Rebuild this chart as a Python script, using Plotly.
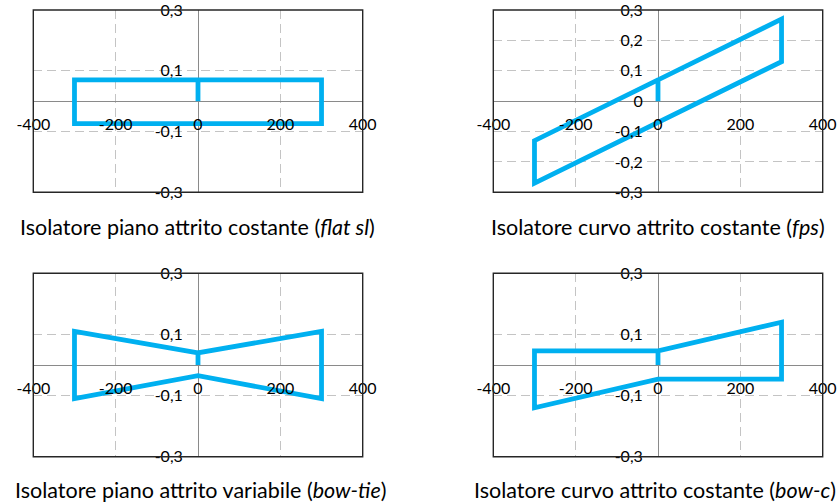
import plotly.graph_objects as go

# Force-displacement loops for four isolator types (displacement in mm, normalised force)
flat_x = [0, 0, 300, 300, -300, -300, 0]
flat_y = [0, 0.07, 0.07, -0.074, -0.074, 0.07, 0.07]

fps_x = [0, 0, 300, 300, -300, -300, 0]
fps_y = [0, 0.07, 0.27, 0.13, -0.27, -0.13, 0.07]

bowtie_x = [0, 0, 300, 300, 0, -300, -300, 0]
bowtie_y = [0, 0.04, 0.11, -0.11, -0.035, -0.11, 0.11, 0.04]

bowc_x = [0, 0, 300, 300, 0, -300, -300, 0]
bowc_y = [0, 0.046, 0.14, -0.046, -0.046, -0.14, 0.046, 0.046]

titles = [
    "Isolatore piano attrito costante (<i>flat sl</i>)",
    "Isolatore curvo attrito costante (<i>fps</i>)",
    "Isolatore piano attrito variabile (<i>bow-tie</i>)",
    "Isolatore curvo attrito costante (<i>bow-c</i>)",
]

x_ticks = [-400, -200, 0, 200, 400]
x_tick_labels = ["-400", "-200", "0", "200", "400"]

y_ticks_coarse = [-0.3, -0.1, 0.1, 0.3]
y_tick_labels_coarse = ["-0,3", "-0,1", "0,1", "0,3"]
y_ticks_fine = [-0.3, -0.2, -0.1, 0, 0.1, 0.2, 0.3]
y_tick_labels_fine = ["-0,3", "-0,2", "-0,1", "0", "0,1", "0,2", "0,3"]

W, H = 840, 504
BLUE = "#00b0f0"
FONT = "Lato"

# plot-area boxes in pixels: (left, top, right, bottom)
boxes = [
    (33.3, 10.0, 362.7, 192.3),
    (493.3, 10.0, 822.7, 192.3),
    (33.3, 273.3, 362.7, 456.7),
    (493.3, 273.3, 822.7, 456.7),
]
# caption centres in pixels
title_pos = [(197, 227), (658, 227), (200, 490), (655, 490)]

series = [
    (flat_x, flat_y, y_ticks_coarse, y_tick_labels_coarse),
    (fps_x, fps_y, y_ticks_fine, y_tick_labels_fine),
    (bowtie_x, bowtie_y, y_ticks_coarse, y_tick_labels_coarse),
    (bowc_x, bowc_y, y_ticks_coarse, y_tick_labels_coarse),
]

fig = go.Figure()
layout = dict(
    width=W, height=H,
    margin=dict(l=0, r=0, t=0, b=0, autoexpand=False),
    paper_bgcolor="white", plot_bgcolor="white",
    showlegend=False,
    font=dict(family=FONT, color="#000000"),
    shapes=[], annotations=[],
)

for i, ((xs, ys, yt, ytl), (l, t, r, b)) in enumerate(zip(series, boxes)):
    n = "" if i == 0 else str(i + 1)
    xd = [l / W, r / W]
    yd = [1 - b / H, 1 - t / H]
    fig.add_trace(go.Scatter(
        x=xs, y=ys, mode="lines",
        line=dict(color=BLUE, width=4.8),
        xaxis="x" + n, yaxis="y" + n, hoverinfo="skip",
    ))
    common = dict(
        anchor="free", automargin=False, ticklabeloverflow="allow",
        ticks="outside", tickcolor="rgba(0,0,0,0)",
        tickfont=dict(size=16, family=FONT, color="#000000"),
        showgrid=True, gridcolor="#c4c4c4", gridwidth=1.2,
        griddash="9px,5px",
        zeroline=True, zerolinecolor="#8a8a8a", zerolinewidth=1.2,
        showline=False, fixedrange=True,
    )
    layout["xaxis" + n] = dict(
        domain=xd, range=[-400, 400],
        position=(yd[0] + yd[1]) / 2, ticklen=9,
        tickvals=x_ticks, ticktext=x_tick_labels, **common,
    )
    layout["yaxis" + n] = dict(
        domain=yd, range=[-0.3, 0.3],
        position=(xd[0] + xd[1]) / 2, ticklen=12,
        tickvals=yt, ticktext=ytl, **common,
    )
    layout["shapes"].append(dict(
        type="rect", xref="x" + n + " domain", yref="y" + n + " domain",
        x0=0, x1=1, y0=0, y1=1,
        line=dict(color="#262626", width=1.4), layer="above",
    ))
    tx, ty = title_pos[i]
    layout["annotations"].append(dict(
        text=titles[i], xref="paper", yref="paper",
        x=tx / W, y=1 - ty / H,
        xanchor="center", yanchor="middle", showarrow=False,
        font=dict(size=21.5, family=FONT, color="#000000"),
    ))

fig.update_layout(**layout)
fig.write_html("out.html")
